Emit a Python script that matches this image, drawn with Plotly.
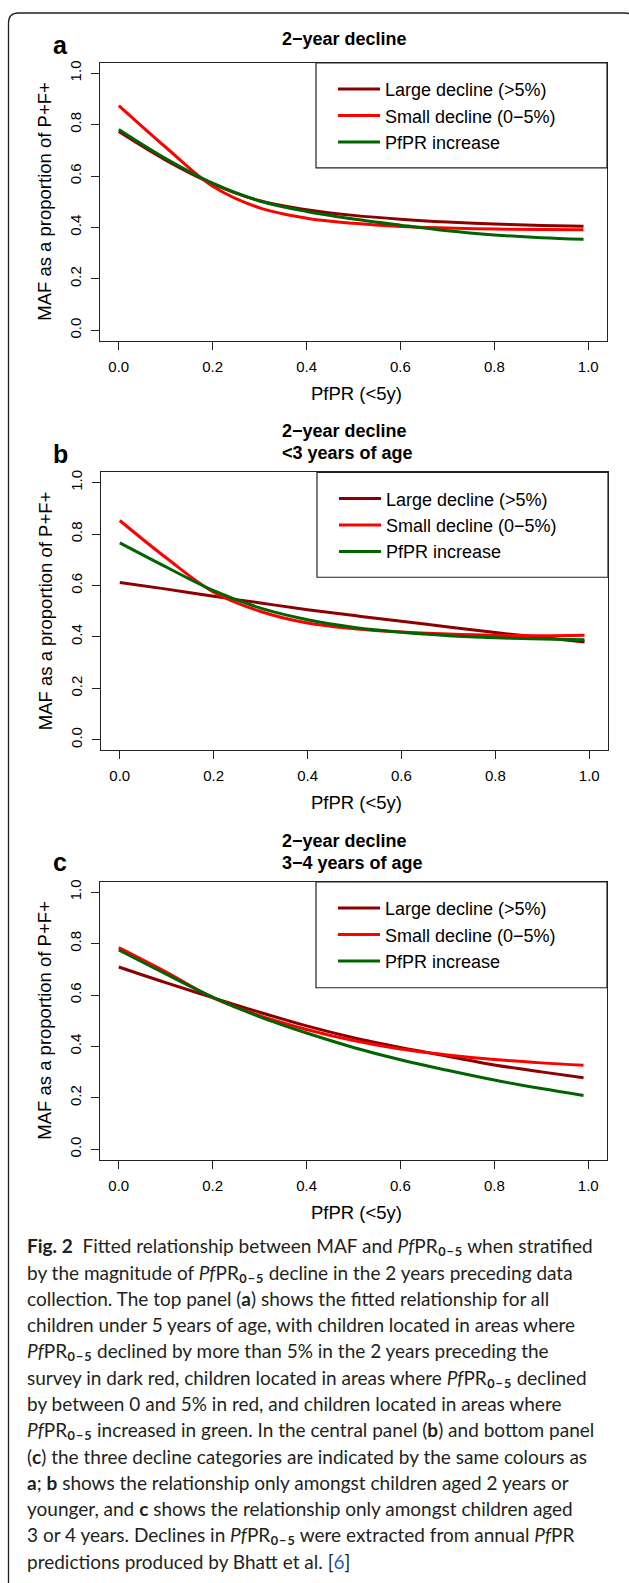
import plotly.graph_objects as go

W, H = 629, 1583

# ---------------- data ----------------
pfpr = [0.0, 0.1, 0.2, 0.3, 0.4, 0.5, 0.6, 0.7, 0.8, 0.9, 0.99]

a_large = [0.773, 0.662, 0.570, 0.504, 0.469, 0.447, 0.432, 0.421, 0.413, 0.408, 0.405]
a_small = [0.874, 0.712, 0.560, 0.476, 0.436, 0.416, 0.404, 0.398, 0.394, 0.392, 0.391]
a_incr = [0.781, 0.668, 0.572, 0.503, 0.462, 0.433, 0.409, 0.387, 0.371, 0.360, 0.354]

b_large = [0.612, 0.586, 0.558, 0.532, 0.506, 0.483, 0.461, 0.439, 0.417, 0.398, 0.380]
b_small = [0.853, 0.706, 0.574, 0.499, 0.454, 0.432, 0.419, 0.411, 0.406, 0.405, 0.407]
b_incr = [0.766, 0.671, 0.580, 0.512, 0.467, 0.437, 0.418, 0.405, 0.397, 0.392, 0.389]

c_large = [0.709, 0.648, 0.590, 0.533, 0.480, 0.434, 0.396, 0.362, 0.328, 0.301, 0.278]
c_small = [0.784, 0.690, 0.590, 0.520, 0.466, 0.423, 0.390, 0.367, 0.349, 0.336, 0.327]
c_incr = [0.775, 0.682, 0.592, 0.515, 0.452, 0.396, 0.348, 0.307, 0.269, 0.236, 0.209]

series_names = ["Large decline (>5%)", "Small decline (0\u22125%)", "PfPR increase"]
series_colors = ["#8B0000", "#FF0000", "#006400"]

panel_letters = ["a", "b", "c"]
panel_titles = [["2\u2212year decline"],
                ["2\u2212year decline", "<3 years of age"],
                ["2\u2212year decline", "3\u22124 years of age"]]
tick_vals = [0.0, 0.2, 0.4, 0.6, 0.8, 1.0]
tick_text = ["0.0", "0.2", "0.4", "0.6", "0.8", "1.0"]
x_title = "PfPR (<5y)"
y_title = "MAF as a proportion of P+F+"

PF = "<i>Pf</i>PR<span style='font-size:25px'>\u2080\u208b\u2085</span>"
caption_lines = [
    "<b>Fig. 2</b>  Fitted relationship between MAF and " + PF + " when stratified",
    "by the magnitude of " + PF + " decline in the 2 years preceding data",
    "collection. The top panel (<b>a</b>) shows the fitted relationship for all",
    "children under 5 years of age, with children located in areas where",
    PF + " declined by more than 5% in the 2 years preceding the",
    "survey in dark red, children located in areas where " + PF + " declined",
    "by between 0 and 5% in red, and children located in areas where",
    PF + " increased in green. In the central panel (<b>b</b>) and bottom panel",
    "(<b>c</b>) the three decline categories are indicated by the same colours as",
    "<b>a</b>; <b>b</b> shows the relationship only amongst children aged 2 years or",
    "younger, and <b>c</b> shows the relationship only amongst children aged",
    "3 or 4 years. Declines in " + PF + " were extracted from annual <i>Pf</i>PR",
    "predictions produced by Bhatt et al. [<span style='color:#2a5db0'>6</span>]",
]

panels = [
    (a_large, a_small, a_incr),
    (b_large, b_small, b_incr),
    (c_large, c_small, c_incr),
]

# ---------------- layout geometry (pixels) ----------------
def X(px):
    return px / W

def Y(py):
    return 1 - py / H

boxes = [  # left, right, top, bottom of each plot box
    (100, 607, 61, 339),
    (101, 608, 471, 749),
    (100, 607, 881, 1159),
]
title_y = [[37], [430, 452], [840, 862]]
letter_y = [43, 453, 861]
legend_boxes = [(316, 607, 61, 166), (317, 608, 471, 576), (316, 607, 881, 987)]

FONT = "Liberation Sans"
AXC = "#222222"

fig = go.Figure()
layout = dict(
    width=W, height=H,
    margin=dict(l=0, r=0, t=0, b=0),
    paper_bgcolor="white", plot_bgcolor="white",
    font=dict(family=FONT, color="black"),
    showlegend=True,
)
annotations = []
shapes = []

for i, vals in enumerate(panels):
    k = "" if i == 0 else str(i + 1)
    leg = "legend" + k
    for name, col, yv in zip(series_names, series_colors, vals):
        fig.add_trace(go.Scatter(
            x=pfpr, y=yv, mode="lines", name=name,
            line=dict(color=col, width=3, shape="spline", smoothing=1.0),
            xaxis="x" + k, yaxis="y" + k, legend=leg,
            hoverinfo="skip",
        ))
    l, r, t, b = boxes[i]
    layout["xaxis" + k] = dict(
        domain=[X(l), X(r)], range=[-0.04, 1.04], anchor="y" + k,
        tickmode="array", tickvals=tick_vals, ticktext=tick_text,
        ticks="outside", ticklen=8, tickwidth=1.2, tickcolor=AXC,
        showline=True, linecolor=AXC, linewidth=1.2, mirror=True,
        showgrid=False, zeroline=False, ticklabelstandoff=4,
        tickfont=dict(family=FONT, size=15, color="black"),
    )
    layout["yaxis" + k] = dict(
        domain=[Y(b), Y(t)], range=[-0.04, 1.04], anchor="x" + k,
        tickmode="array", tickvals=tick_vals, ticktext=tick_text,
        ticks="outside", ticklen=8, tickwidth=1.2, tickcolor=AXC,
        showline=True, linecolor=AXC, linewidth=1.2, mirror=True,
        showgrid=False, zeroline=False, tickangle=-90, ticklabelstandoff=4,
        tickfont=dict(family=FONT, size=15, color="black"),
    )
    ll, lr, lt, lb = legend_boxes[i]
    layout[leg] = dict(
        x=X(ll + 17), y=Y(lt + 8), xanchor="left", yanchor="top",
        bgcolor="rgba(0,0,0,0)", borderwidth=0, itemwidth=42,
        font=dict(family=FONT, size=18, color="black"),
    )
    shapes.append(dict(type="rect", xref="paper", yref="paper",
                       x0=X(ll), x1=X(lr), y0=Y(lb), y1=Y(lt),
                       line=dict(color=AXC, width=1.2), fillcolor="rgba(0,0,0,0)"))
    # panel letter
    annotations.append(dict(text="<b>%s</b>" % panel_letters[i], x=X(60), y=Y(letter_y[i]),
                            xref="paper", yref="paper", showarrow=False,
                            xanchor="center", yanchor="middle",
                            font=dict(family=FONT, size=25, color="black")))
    # panel title lines
    for line, ty in zip(panel_titles[i], title_y[i]):
        annotations.append(dict(text="<b>%s</b>" % line, x=X(280), y=Y(ty),
                                xref="paper", yref="paper", showarrow=False,
                                xanchor="left", yanchor="middle",
                                font=dict(family=FONT, size=18, color="black")))
    # axis titles
    annotations.append(dict(text=x_title, x=X(356), y=Y(b + 53),
                            xref="paper", yref="paper", showarrow=False,
                            xanchor="center", yanchor="middle",
                            font=dict(family=FONT, size=18.5, color="black")))
    annotations.append(dict(text=y_title, x=X(45), y=Y((t + b) / 2),
                            xref="paper", yref="paper", showarrow=False, textangle=-90,
                            xanchor="center", yanchor="middle",
                            font=dict(family=FONT, size=18.5, color="black")))

# caption (lines holding the larger subscript span get a small upward nudge)
for j, line in enumerate(caption_lines):
    cy = 1245.5 + j * 26.3 - (2.5 if PF in line else 0.0)
    annotations.append(dict(text=line, x=X(25), y=Y(cy),
                            xref="paper", yref="paper", showarrow=False,
                            xanchor="left", yanchor="middle", align="left",
                            font=dict(family="Lato", size=19, color="#231f20")))

# outer rounded frame
r = 10
path = "M {x0},{yb} L {x0},{yr} Q {x0},{yt} {xr},{yt} L {xq},{yt} Q {x1},{yt} {x1},{yr} L {x1},{yb}".format(
    x0=X(8.5), x1=X(635), xr=X(8.5 + r), xq=X(635 - r),
    yt=Y(11), yr=Y(11 + r), yb=Y(1600))
shapes.append(dict(type="path", xref="paper", yref="paper", path=path,
                   line=dict(color="#231f20", width=1.3)))

layout["annotations"] = annotations
layout["shapes"] = shapes
fig.update_layout(**layout)
fig.write_html("out.html")
